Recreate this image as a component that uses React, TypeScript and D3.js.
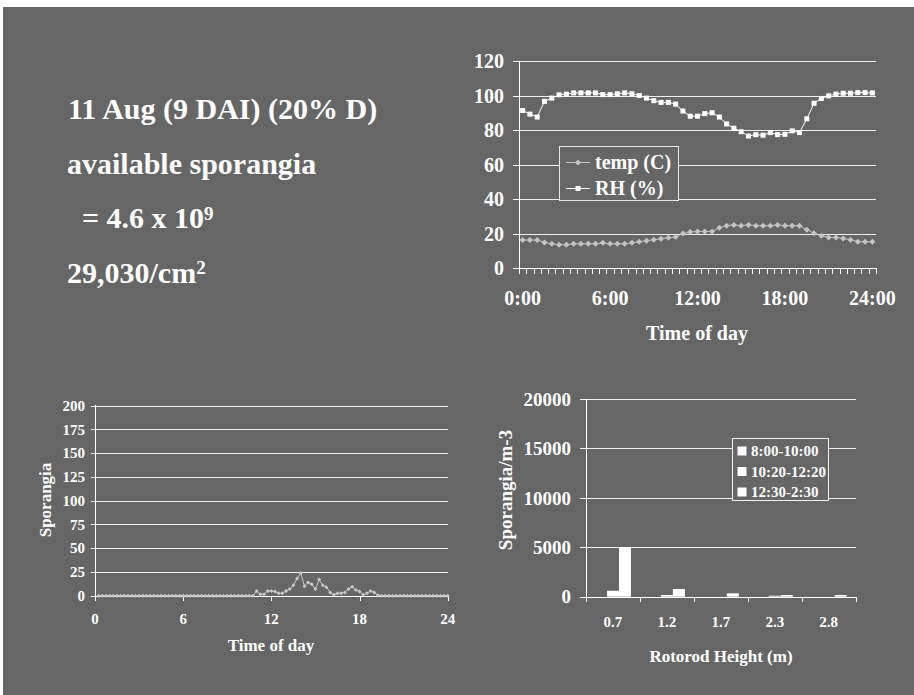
import React, { useEffect, useRef } from 'react';
import * as d3 from 'd3';

const W = 914;
const H = 695;
const BG = '#666666';
const FONT = '"Liberation Serif", "Times New Roman", serif';

// --- top right: temp and RH every 30 min from 0:00 to 24:00
const timeTickLabels = ['0:00', '6:00', '12:00', '18:00', '24:00'];
const tempC = [
  16.2, 16.2, 16.2, 14.8, 14, 13.5, 13.5, 14, 14, 14,
  14, 14.6, 14, 14, 14, 14.6, 15.2, 15.8, 16.4, 17,
  17.5, 18, 20, 20.8, 21.2, 21.2, 21.2, 23.3, 24.5, 25,
  24.5, 25, 24.5, 24.5, 24.5, 25, 24.5, 24.5, 24.5, 22.2,
  20.2, 18.7, 17.7, 17.7, 17.1, 16.4, 15.2, 15.2, 15.2,
];
const rhPct = [
  91.3, 89.2, 87.5, 96.6, 98.5, 100.4, 100.8, 101.5, 101.5, 101.5,
  101.5, 100.5, 100.5, 101, 101.5, 101, 100, 98.5, 97, 96,
  96, 95, 91, 88, 88, 89.5, 90, 87.5, 83.5, 81,
  79, 76.5, 77.3, 77, 78.5, 77.3, 77.5, 79.5, 78.5, 86.5,
  95.5, 98.3, 99.8, 100.8, 101.3, 101.3, 101.7, 101.7, 101.5,
];
const climateTicks = [0, 20, 40, 60, 80, 100, 120];

// --- bottom left: sporangia count every 15 min (0:15 .. 24:00)
const sporangiaCount = [
  0, 0, 0, 0, 0, 0, 0, 0, 0, 0, 0, 0,
  0, 0, 0, 0, 0, 0, 0, 0, 0, 0, 0, 0,
  0, 0, 0, 0, 0, 0, 0, 0, 0, 0, 0, 0,
  0, 0, 0, 0, 0, 0, 0, 5, 1.5, 1.5, 5, 5,
  4.5, 2.5, 2.5, 5, 7, 11, 18, 24, 10, 14, 12, 7,
  17, 11, 9, 3.5, 1, 2.5, 2.5, 3.5, 7, 9.5, 6, 4.5,
  1, 2.5, 5, 3.5, 0.5, 0, 0, 0, 0, 0, 0, 0,
  0, 0, 0, 0, 0, 0, 0, 0, 0, 0, 0, 0,
];
const countTicks = [0, 25, 50, 75, 100, 125, 150, 175, 200];
const hourTicks = [0, 6, 12, 18, 24];

// --- bottom right: sporangia per m3 by rotorod height
const heights = ['0.7', '1.2', '1.7', '2.3', '2.8'];
const periods = ['8:00-10:00', '10:20-12:20', '12:30-2:30'];
const morning = [0, 0, 0, 0, 0];
const midday = [600, 170, 0, 100, 0];
const afternoon = [5000, 780, 340, 170, 170];
const densityTicks = [0, 5000, 10000, 15000, 20000];

const diamond = (r: number) => `M0,${-r}L${r},0L0,${r}L${-r},0Z`;

export default function App() {
  const svgRef = useRef<SVGSVGElement>(null);

  useEffect(() => {
    if (!svgRef.current) return;
    const svg = d3.select(svgRef.current);
    svg.selectAll('*').remove();
    svg.style('font-family', FONT).style('font-weight', 'bold');

    svg.append('rect').attr('width', W).attr('height', H).attr('fill', '#fff');
    svg.append('rect').attr('x', 3).attr('y', 7).attr('width', W - 3).attr('height', H - 7).attr('fill', BG);

    // ---------- header text
    const head = svg.append('g').attr('fill', '#fff').attr('font-size', 30);
    head.append('text').attr('x', 68).attr('y', 119).text('11 Aug (9 DAI) (20% D)');
    head.append('text').attr('x', 67).attr('y', 174).text('available sporangia');
    const l3 = head.append('text').attr('x', 82).attr('y', 228);
    l3.append('tspan').text('= 4.6 x 10');
    l3.append('tspan').attr('font-size', 19).attr('dy', -8).text('9');
    const l4 = head.append('text').attr('x', 67).attr('y', 283);
    l4.append('tspan').text('29,030/cm');
    l4.append('tspan').attr('font-size', 19).attr('dy', -9).text('2');

    // ---------- top right: temp / RH
    {
      const g = svg.append('g');
      const idx = d3.range(tempC.length);
      const x = d3.scaleBand<number>().domain(idx).range([519, 876]);
      const cx = (i: number) => (x(i) as number) + x.bandwidth() / 2;
      const y = d3.scaleLinear().domain([0, 120]).range([268, 61]);

      g.selectAll('line.grid')
        .data(climateTicks.slice(1))
        .join('line')
        .attr('x1', 519).attr('x2', 876)
        .attr('y1', (d) => Math.round(y(d)) + 0.5).attr('y2', (d) => Math.round(y(d)) + 0.5)
        .attr('stroke', '#f0f0f0');
      g.append('line').attr('x1', 519.5).attr('x2', 519.5).attr('y1', 61).attr('y2', 268).attr('stroke', '#fff');
      g.append('line').attr('x1', 519).attr('x2', 876).attr('y1', 268.5).attr('y2', 268.5).attr('stroke', '#fff');
      g.selectAll('line.yt')
        .data(climateTicks)
        .join('line')
        .attr('x1', 513).attr('x2', 519)
        .attr('y1', (d) => Math.round(y(d)) + 0.5).attr('y2', (d) => Math.round(y(d)) + 0.5)
        .attr('stroke', '#fff');
      g.selectAll('line.xt')
        .data(d3.range(tempC.length + 1))
        .join('line')
        .attr('x1', (i) => Math.round(519 + i * x.step()) + 0.5)
        .attr('x2', (i) => Math.round(519 + i * x.step()) + 0.5)
        .attr('y1', 268).attr('y2', 274)
        .attr('stroke', '#fff');

      g.selectAll('text.yl')
        .data(climateTicks)
        .join('text')
        .attr('x', 504).attr('y', (d) => y(d)).attr('dy', '0.35em')
        .attr('text-anchor', 'end').attr('font-size', 20).attr('fill', '#fff')
        .text((d) => d);
      g.selectAll('text.xl')
        .data(timeTickLabels)
        .join('text')
        .attr('x', (_, k) => cx(k * 12)).attr('y', 298).attr('dy', '0.35em')
        .attr('text-anchor', 'middle').attr('font-size', 20).attr('fill', '#fff')
        .text((d) => d);
      g.append('text').attr('x', 697).attr('y', 333).attr('dy', '0.35em')
        .attr('text-anchor', 'middle').attr('font-size', 20).attr('fill', '#fff').text('Time of day');

      const tempLine = d3.line<number>().x((_, i) => cx(i)).y((d) => y(d));
      g.append('path').attr('d', tempLine(tempC)).attr('fill', 'none').attr('stroke', '#c4c4c4').attr('stroke-width', 1);
      g.selectAll('path.tm')
        .data(tempC)
        .join('path')
        .attr('d', diamond(3))
        .attr('transform', (d, i) => `translate(${cx(i)},${y(d)})`)
        .attr('fill', '#c4c4c4');
      g.append('path').attr('d', tempLine(rhPct)).attr('fill', 'none').attr('stroke', '#fff').attr('stroke-width', 1);
      g.selectAll('rect.rm')
        .data(rhPct)
        .join('rect')
        .attr('x', (_, i) => cx(i) - 2.5).attr('y', (d) => y(d) - 2.5)
        .attr('width', 5).attr('height', 5)
        .attr('fill', '#fff');

      // legend
      const lg = g.append('g');
      lg.append('rect').attr('x', 559.5).attr('y', 146.5).attr('width', 119).attr('height', 54)
        .attr('fill', BG).attr('stroke', '#e8e8e8');
      lg.append('line').attr('x1', 566).attr('x2', 590).attr('y1', 162.5).attr('y2', 162.5).attr('stroke', '#c4c4c4');
      lg.append('path').attr('d', diamond(3)).attr('transform', 'translate(578,162.5)').attr('fill', '#c4c4c4');
      lg.append('line').attr('x1', 566).attr('x2', 590).attr('y1', 188.5).attr('y2', 188.5).attr('stroke', '#fff');
      lg.append('rect').attr('x', 575.5).attr('y', 186).attr('width', 5).attr('height', 5).attr('fill', '#fff');
      lg.append('text').attr('x', 595).attr('y', 162).attr('dy', '0.35em').attr('font-size', 20).attr('fill', '#fff').text('temp (C)');
      lg.append('text').attr('x', 595).attr('y', 188).attr('dy', '0.35em').attr('font-size', 20).attr('fill', '#fff').text('RH (%)');
    }

    // ---------- bottom left: sporangia over the day
    {
      const g = svg.append('g');
      const x = d3.scaleLinear().domain([0, 24]).range([95, 447.7]);
      const y = d3.scaleLinear().domain([0, 200]).range([595.7, 405.7]);
      const hours = sporangiaCount.map((_, i) => (i + 1) * 0.25);

      g.selectAll('line.grid')
        .data(countTicks.slice(1))
        .join('line')
        .attr('x1', 95).attr('x2', 448)
        .attr('y1', (d) => Math.round(y(d)) + 0.5).attr('y2', (d) => Math.round(y(d)) + 0.5)
        .attr('stroke', '#f0f0f0');
      g.append('line').attr('x1', 95.5).attr('x2', 95.5).attr('y1', 405).attr('y2', 596).attr('stroke', '#fff');
      g.append('line').attr('x1', 95).attr('x2', 448).attr('y1', 596.5).attr('y2', 596.5).attr('stroke', '#fff');
      g.selectAll('line.yt')
        .data(countTicks)
        .join('line')
        .attr('x1', 91).attr('x2', 95)
        .attr('y1', (d) => Math.round(y(d)) + 0.5).attr('y2', (d) => Math.round(y(d)) + 0.5)
        .attr('stroke', '#fff');
      g.selectAll('line.xt')
        .data(hourTicks)
        .join('line')
        .attr('x1', (d) => Math.round(x(d)) + 0.5).attr('x2', (d) => Math.round(x(d)) + 0.5)
        .attr('y1', 596).attr('y2', 601)
        .attr('stroke', '#fff');
      g.selectAll('text.yl')
        .data(countTicks)
        .join('text')
        .attr('x', 85).attr('y', (d) => y(d)).attr('dy', '0.35em')
        .attr('text-anchor', 'end').attr('font-size', 15).attr('fill', '#fff')
        .text((d) => d);
      g.selectAll('text.xl')
        .data(hourTicks)
        .join('text')
        .attr('x', (d) => x(d)).attr('y', 619).attr('dy', '0.35em')
        .attr('text-anchor', 'middle').attr('font-size', 15).attr('fill', '#fff')
        .text((d) => d);
      g.append('text').attr('x', 271).attr('y', 645).attr('dy', '0.35em')
        .attr('text-anchor', 'middle').attr('font-size', 17).attr('fill', '#fff').text('Time of day');
      g.append('text').attr('transform', 'translate(45,500) rotate(-90)').attr('dy', '0.35em')
        .attr('text-anchor', 'middle').attr('font-size', 17).attr('fill', '#fff').text('Sporangia');

      const line = d3.line<number>().x((_, i) => x(hours[i])).y((d) => y(d));
      g.append('path').attr('d', line(sporangiaCount)).attr('fill', 'none').attr('stroke', '#c8c8c8').attr('stroke-width', 1);
      g.selectAll('path.m')
        .data(sporangiaCount)
        .join('path')
        .attr('d', diamond(2))
        .attr('transform', (d, i) => `translate(${x(hours[i])},${y(d)})`)
        .attr('fill', '#c8c8c8');
    }

    // ---------- bottom right: bars by rotorod height
    {
      const g = svg.append('g');
      const x = d3.scaleBand<string>().domain(heights).range([586, 855.7]);
      const gap = (x.bandwidth() * 1.5) / 4.5;
      const xs = d3.scaleBand<string>().domain(periods).range([gap / 2, x.bandwidth() - gap / 2]);
      const y = d3.scaleLinear().domain([0, 20000]).range([596.7, 399]);
      const series = [morning, midday, afternoon];

      g.selectAll('line.grid')
        .data(densityTicks.slice(1))
        .join('line')
        .attr('x1', 586).attr('x2', 856)
        .attr('y1', (d) => Math.round(y(d)) + 0.5).attr('y2', (d) => Math.round(y(d)) + 0.5)
        .attr('stroke', '#f0f0f0');
      g.append('line').attr('x1', 586.5).attr('x2', 586.5).attr('y1', 399).attr('y2', 597).attr('stroke', '#fff');

      periods.forEach((p, s) => {
        g.selectAll(`rect.s${s}`)
          .data(series[s])
          .join('rect')
          .attr('x', (_, i) => (x(heights[i]) as number) + (xs(p) as number))
          .attr('width', xs.bandwidth())
          .attr('y', (d) => y(d))
          .attr('height', (d) => y(0) - y(d))
          .attr('fill', '#fff');
      });

      g.append('line').attr('x1', 586).attr('x2', 856).attr('y1', 597.5).attr('y2', 597.5).attr('stroke', '#fff');
      g.selectAll('line.yt')
        .data(densityTicks)
        .join('line')
        .attr('x1', 580).attr('x2', 586)
        .attr('y1', (d) => Math.round(y(d)) + 0.5).attr('y2', (d) => Math.round(y(d)) + 0.5)
        .attr('stroke', '#fff');
      g.selectAll('line.xt')
        .data(d3.range(heights.length + 1))
        .join('line')
        .attr('x1', (i) => Math.round(586 + i * x.step()) + 0.5)
        .attr('x2', (i) => Math.round(586 + i * x.step()) + 0.5)
        .attr('y1', 597).attr('y2', 602)
        .attr('stroke', '#fff');
      g.selectAll('text.yl')
        .data(densityTicks)
        .join('text')
        .attr('x', 571).attr('y', (d) => y(d)).attr('dy', '0.35em')
        .attr('text-anchor', 'end').attr('font-size', 19).attr('fill', '#fff')
        .text((d) => d);
      g.selectAll('text.xl')
        .data(heights)
        .join('text')
        .attr('x', (d) => (x(d) as number) + x.bandwidth() / 2).attr('y', 622).attr('dy', '0.35em')
        .attr('text-anchor', 'middle').attr('font-size', 15).attr('fill', '#fff')
        .text((d) => d);
      g.append('text').attr('x', 721).attr('y', 656).attr('dy', '0.35em')
        .attr('text-anchor', 'middle').attr('font-size', 17).attr('fill', '#fff').text('Rotorod Height (m)');
      g.append('text').attr('transform', 'translate(505,490) rotate(-90)').attr('dy', '0.35em')
        .attr('text-anchor', 'middle').attr('font-size', 19).attr('fill', '#fff').text('Sporangia/m-3');

      // legend
      const lg = g.append('g');
      lg.append('rect').attr('x', 732.5).attr('y', 438.5).attr('width', 96).attr('height', 62)
        .attr('fill', BG).attr('stroke', '#f0f0f0');
      periods.forEach((p, k) => {
        const cy = 451 + k * 20.5;
        lg.append('rect').attr('x', 737.5).attr('y', cy - 4.5).attr('width', 9).attr('height', 9).attr('fill', '#fff');
        lg.append('text').attr('x', 751).attr('y', cy).attr('dy', '0.35em')
          .attr('font-size', 15).attr('fill', '#fff').text(p);
      });
    }
  }, []);

  return (
    <svg
      ref={svgRef}
      width={W}
      height={H}
      style={{ position: 'absolute', left: 0, top: 0, display: 'block' }}
    />
  );
}
